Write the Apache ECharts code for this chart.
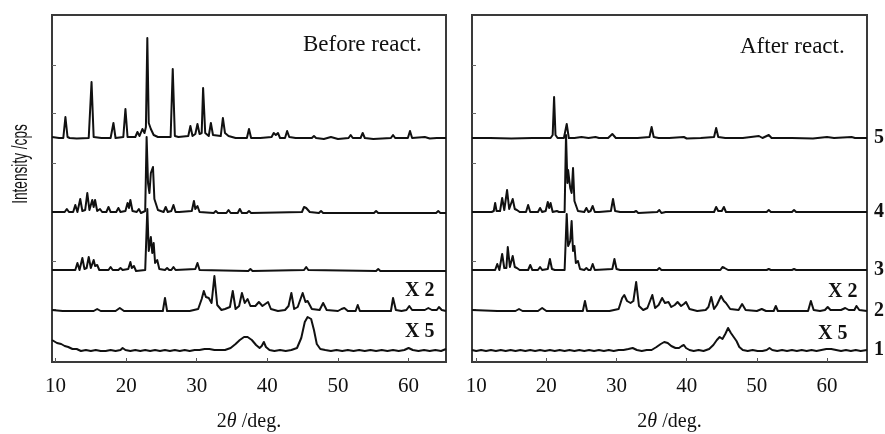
<!DOCTYPE html>
<html>
<head>
<meta charset="utf-8">
<script src="https://cdn.jsdelivr.net/npm/echarts@6/dist/echarts.min.js"></script>
<style>
html,body{margin:0;padding:0;background:#fff;}
#c{width:885px;height:434px;}
</style>
</head>
<body>
<div id="c"></div>
<script>
// ---------- DATA: [2theta (deg), intensity above own baseline] ----------
const TICKS_X = [10, 20, 30, 40, 50, 60];
const TRACE_NAMES = ['1', '2', '3', '4', '5'];
const OFFSETS = [10, 51, 91, 149, 223];   // stacking offset of traces 1..5

// Before react.
const L5 = [[9.5,2],[10.5,1],[11.1,1],[11.4,22],[11.7,2],[12.0,1],[13,0.5],[14.7,1],[15.1,57],[15.4,2],[16.5,1],[17.8,1],[18.2,16],[18.5,1],[19.6,2],[19.9,30],[20.2,2],[21.3,2],[21.6,7],[21.9,3],[22.1,5],[22.3,10],[22.6,6],[22.8,12],[23.0,101],[23.2,16],[23.5,10],[23.9,4],[24.5,2],[26.3,2],[26.6,70],[26.9,3],[27.4,2],[28.8,3],[29.1,13],[29.4,3],[29.8,5],[30.1,15],[30.4,5],[30.7,6],[30.9,51],[31.2,6],[31.7,3],[32.0,16],[32.3,4],[33.4,3],[33.7,21],[34.0,6],[34.2,8],[34.5,3],[35.5,1],[37.1,1],[37.4,10],[37.7,1],[39,1],[40.6,2],[40.9,6],[41.2,4],[41.5,6],[41.8,1],[42.5,1],[42.8,8],[43.1,2],[44,1],[46.3,1],[46.6,3],[46.9,1],[48,0],[49,2],[50,0],[51.5,1],[51.8,4],[52.1,1],[53.2,1],[53.5,6],[53.8,1],[55,0],[57.5,1],[57.8,4],[58.1,1],[59.9,1],[60.2,8],[60.5,1],[62.3,2],[63,0.5],[64,1],[65.3,1]];
const L4 = [[9.5,1],[11.3,1],[11.6,4],[11.9,1],[12.5,1],[12.8,8],[13.1,1],[13.3,2],[13.5,14],[13.8,2],[14.2,3],[14.5,20],[14.8,3],[15.0,4],[15.2,13],[15.4,6],[15.6,13],[15.9,2],[16.3,4],[16.6,1],[17.2,1],[17.5,6],[17.8,1],[18.6,1],[18.9,5],[19.2,1],[19.9,2],[20.2,10],[20.4,5],[20.6,13],[20.9,2],[21.5,1],[21.8,4],[22.1,0],[22.7,2],[22.9,76],[23.1,30],[23.3,20],[23.5,40],[23.8,46],[24.0,14],[24.2,16],[24.5,3],[25.3,1],[25.6,6],[25.9,1],[26.4,2],[26.7,8],[27.0,1],[27.5,1],[29.3,2],[29.6,12],[29.8,4],[30.1,7],[30.4,1],[32.4,0],[32.7,2],[33,0],[34.2,0],[34.5,3],[34.8,0],[35.8,0],[36.1,4],[36.4,0],[37.1,0],[37.4,2],[37.7,0],[44.9,1],[45.2,6],[45.5,5],[45.7,5],[46,1],[47.3,0],[47.6,2],[47.9,0],[55.1,0],[55.4,2],[55.7,0],[63.9,0],[64.2,2],[64.5,0],[65.3,0]];
const L3 = [[9.5,1],[12.8,1],[13.1,8],[13.4,1],[13.6,2],[13.8,13],[14.1,2],[14.4,3],[14.7,14],[15.0,3],[15.2,4],[15.4,11],[15.6,5],[15.9,6],[16.2,1],[17.5,1],[17.8,4],[18.1,1],[18.9,1],[19.2,3],[19.5,1],[20.3,2],[20.6,9],[20.8,3],[21.1,5],[21.4,0],[22.7,1],[23.0,62],[23.2,20],[23.5,34],[23.7,18],[23.9,28],[24.1,8],[24.4,11],[24.7,2],[25.5,1],[25.8,3],[26.1,1],[26.4,1],[26.7,4],[27.0,1],[29.8,2],[30.1,8],[30.4,1],[37.3,0],[37.6,2],[37.9,0],[45.2,1],[45.5,4],[45.8,1],[55.4,0],[55.7,2],[56,0],[65.3,0]];
const L2 = [[9.5,1],[11,0],[13,0],[15.4,0],[15.9,2],[16.4,0],[18.5,0],[19.1,3],[19.7,0],[22,0],[25.2,0],[25.5,13],[25.8,0],[29,0],[30.2,2],[30.7,12],[31.0,20],[31.3,14],[31.7,13],[32.1,8],[32.5,35],[32.9,6],[33.5,1],[34.0,2],[34.7,4],[35.1,20],[35.5,2],[36.0,5],[36.4,18],[36.8,8],[37.2,12],[37.6,5],[38.3,5],[38.8,9],[39.3,5],[39.7,7],[40.1,9],[40.5,2],[41.5,0],[42.5,1],[43.0,5],[43.4,18],[43.8,2],[44.3,4],[45.0,18],[45.4,9],[45.7,10],[46.3,2],[47.4,1],[47.9,8],[48.4,1],[50.0,0],[50.5,2],[50.9,3],[51.4,0],[52.5,0],[52.8,6],[53.1,0],[55,0],[57.5,0],[57.8,13],[58.2,1],[59,0],[59.7,1],[60.1,5],[60.5,1],[62.3,1],[62.8,3],[63.3,1],[64.0,1],[64.3,4],[64.7,1],[65.3,0]];
const L1 = [[9.5,12],[10.2,9],[10.8,8],[11.3,6],[11.8,5],[12.4,3],[13,3],[13.6,1],[14.3,2],[15,1],[15.7,2],[16.4,1],[17.1,1],[17.8,2],[18.5,1],[19.2,2],[19.5,4],[19.9,2],[20.6,1],[21.3,2],[22,1],[22.7,2],[23.4,1],[24.1,2],[24.8,1],[25.5,2],[26.2,1],[26.9,2],[27.6,1],[28.3,2],[29,1],[29.7,2],[30.4,2],[31.1,3],[31.8,3],[32.5,2],[33.2,2],[34,2],[34.8,4],[35.5,8],[36.1,12],[36.7,15],[37.2,15],[37.8,12],[38.4,7],[38.9,4],[39.2,6],[39.5,10],[39.8,5],[40.3,2],[41,1],[41.8,2],[42.6,1],[43.4,2],[44.2,4],[44.8,14],[45.3,30],[45.7,35],[46.2,33],[46.6,22],[47.0,8],[47.5,3],[48.2,2],[49,1],[49.8,2],[50.6,1],[51.4,2],[52.2,1],[53,2],[53.8,1],[54.6,2],[55.4,1],[56.2,2],[57,1],[57.8,2],[58.6,1],[59.4,2],[60,4],[60.6,2],[61.4,1],[62.2,2],[63,1],[63.8,2],[64.6,1],[65.3,3]];

// After react.
const R5 = [[9.4,1],[12,1],[15,0.5],[18,1],[20.6,1],[20.9,4],[21.1,42],[21.3,4],[21.6,1],[22.5,1],[22.9,15],[23.2,1],[24,1],[25,2],[26,1],[27,2],[27.2,3],[27.5,1],[28.8,1],[29.4,5],[29.9,1],[31,1],[33,1],[34.7,2],[35.0,12],[35.3,2],[36,1],[37.5,1],[39.6,2],[40,0.5],[42,1],[43.9,2],[44.2,11],[44.5,2],[45.5,1],[48,1],[50.3,3],[50.8,1],[51.7,4],[52.1,1],[55,1],[58,0.5],[60,2],[61,1],[63.5,2],[64,1],[65.7,1]];
const R4 = [[9.4,1],[12.2,1],[12.5,2],[12.7,10],[12.9,2],[13.4,2],[13.7,15],[14.0,3],[14.2,3],[14.4,23],[14.7,4],[14.9,4],[15.2,14],[15.5,4],[15.8,3],[16.2,1],[17.1,1],[17.4,8],[17.7,1],[18.8,1],[19.1,5],[19.4,1],[19.9,2],[20.2,11],[20.4,5],[20.6,10],[20.9,1],[21.5,2],[21.8,1],[22.6,1],[22.8,78],[23.0,30],[23.1,43],[23.4,25],[23.6,20],[23.8,45],[24.0,12],[24.2,13],[24.5,2],[25.4,1],[25.7,5],[26.0,1],[26.3,2],[26.6,7],[26.9,1],[27.5,1],[29.2,2],[29.5,14],[29.8,2],[30.5,1],[32.5,1],[32.8,2],[33.1,0],[35.8,1],[36.1,3],[36.4,0],[37.0,1],[37.2,3],[37.5,1],[43.9,1],[44.2,6],[44.5,2],[45.0,2],[45.3,6],[45.6,1],[46.5,1],[51.4,1],[51.7,3],[52,1],[55,1],[55.3,3],[55.6,1],[65.7,1]];
const R3 = [[9.4,1],[12.7,1],[13.0,7],[13.3,1],[13.5,2],[13.7,17],[14.0,3],[14.3,3],[14.5,24],[14.8,4],[15.0,4],[15.2,15],[15.5,4],[15.8,3],[16.2,1],[17.4,1],[17.7,6],[18.0,1],[18.8,1],[19.1,4],[19.4,1],[20.2,2],[20.5,12],[20.8,2],[21.2,1],[22.6,1],[22.9,57],[23.1,25],[23.4,30],[23.6,50],[23.8,20],[24.0,25],[24.2,8],[24.5,10],[24.8,2],[25.4,1],[25.7,3],[26.0,1],[26.3,1],[26.6,7],[26.9,1],[29.4,2],[29.7,12],[30.0,2],[30.5,1],[35.8,1],[36.1,3],[36.4,1],[44.8,1],[45.1,4],[45.4,3],[45.6,4],[45.9,1],[51.4,1],[51.7,2],[52,1],[55,1],[55.3,2],[55.6,1],[65.7,1]];
const R2 = [[9.4,1],[13,0],[15.6,0],[16.1,2],[16.6,0],[18.8,0],[19.4,3],[20,0],[23,0],[25.2,0],[25.5,10],[25.8,0],[29,0],[30.3,2],[30.8,13],[31.1,16],[31.5,10],[32.0,8],[32.4,10],[32.8,29],[33.2,5],[33.8,1],[34.4,3],[35.1,16],[35.5,3],[36.0,6],[36.5,13],[36.9,8],[37.4,9],[37.8,4],[38.3,6],[38.7,9],[39.2,5],[39.6,7],[39.9,9],[40.4,2],[41.5,0],[42.7,1],[43.1,4],[43.5,14],[43.9,2],[44.3,6],[44.9,15],[45.3,10],[45.6,8],[46.2,2],[47.4,1],[47.9,7],[48.4,1],[50,0],[50.7,2],[51.3,0],[52.4,0],[52.7,5],[53.0,0],[55,0],[57.3,0],[57.7,10],[58.1,1],[59,0],[59.7,1],[60.1,4],[60.5,1],[62,1],[62.6,3],[63.1,1],[63.9,1],[64.2,5],[64.6,1],[65.7,0]];
const R1 = [[9.4,2],[10,1],[10.7,2],[11.4,1],[12.1,2],[12.8,1],[13.5,2],[14.2,1],[14.9,2],[15.6,1],[16.3,2],[17,1],[17.7,2],[18.4,1],[19.1,2],[19.8,1],[20.5,2],[21.2,1],[21.9,2],[22.6,1],[23.3,2],[24,1],[24.7,2],[25.4,1],[26.1,2],[26.8,1],[27.5,2],[28.2,1],[28.9,2],[29.6,1],[30.3,2],[31,2],[31.7,3],[32.3,4],[32.9,2],[33.6,1],[34.3,2],[35,2],[35.7,5],[36.3,8],[36.8,10],[37.3,9],[37.8,6],[38.4,4],[38.9,4],[39.3,6],[39.6,7],[39.9,4],[40.4,2],[41,1],[41.7,2],[42.4,1],[43.2,3],[43.8,7],[44.3,12],[44.7,15],[45.1,13],[45.5,18],[45.9,24],[46.3,19],[46.7,15],[47.1,11],[47.5,5],[48,2],[48.7,1],[49.4,2],[50.1,1],[50.8,1],[51.4,2],[51.8,4],[52.2,2],[52.9,1],[53.6,2],[54.3,1],[55,2],[55.7,1],[56.4,2],[57.1,1],[57.8,2],[58.5,1],[59.2,2],[59.9,3],[60.6,3],[61.3,2],[62,1],[62.7,2],[63.4,1],[64.1,2],[64.8,1],[65.7,2]];

const LEFT_TRACES = [L1, L2, L3, L4, L5];
const RIGHT_TRACES = [R1, R2, R3, R4, R5];
const PANEL_TITLES = ['Before react.', 'After react.'];
const SCALE_LABELS = ['X 2', 'X 5'];

// ---------- CHART ----------
const chart = echarts.init(document.getElementById('c'), null, {renderer: 'canvas'});
const SERIF = '"Liberation Serif","Times New Roman",serif';
const INK = '#111111';

function xAxisFor(gridIndex, min, max) {
  return {
    type: 'value', gridIndex, min, max,
    name: '2{i|θ} /deg.', nameLocation: 'middle', nameGap: 50,
    nameTextStyle: {fontFamily: SERIF, fontSize: 20, color: INK,
      rich: {i: {fontFamily: SERIF, fontSize: 20, fontStyle: 'italic', color: INK}}},
    axisLine: {show: false},
    splitLine: {show: false},
    axisTick: {show: true, inside: true, length: 4, customValues: TICKS_X, lineStyle: {color: '#555', width: 1}},
    axisLabel: {show: true, customValues: TICKS_X, margin: 14, fontFamily: SERIF, fontSize: 21, color: INK}
  };
}
function yAxisFor(gridIndex) {
  return {
    type: 'value', gridIndex, min: 0, max: 347,
    axisLine: {show: false}, splitLine: {show: false}, axisLabel: {show: false},
    axisTick: {show: true, inside: true, length: 4, customValues: [53, 101, 150, 199, 249, 297], lineStyle: {color: '#666', width: 1}}
  };
}

const series = [];
function addTraces(traces, axisIndex, withEnd) {
  traces.forEach((tr, k) => {
    series.push({
      type: 'line', xAxisIndex: axisIndex, yAxisIndex: axisIndex,
      data: tr.map(p => [p[0], p[1] + OFFSETS[k]]),
      showSymbol: false, symbol: 'none', clip: false, silent: true, animation: false,
      lineStyle: {color: INK, width: 2, join: 'round'},
      z: 10 - k,
      endLabel: withEnd ? {show: true, formatter: TRACE_NAMES[k], distance: 7,
        fontFamily: SERIF, fontWeight: 'bold', fontSize: 20, color: INK} : {show: false}
    });
  });
}
addTraces(LEFT_TRACES, 0, false);
addTraces(RIGHT_TRACES, 1, true);

const gridStyle = {show: true, borderColor: '#3a3a3a', borderWidth: 2, backgroundColor: 'transparent',
  containLabel: false, outerBoundsMode: 'none'};

chart.setOption({
  backgroundColor: '#fff',
  animation: false,
  grid: [
    Object.assign({left: 52, top: 15, width: 394, height: 347}, gridStyle),
    Object.assign({left: 472, top: 15, width: 395, height: 347}, gridStyle)
  ],
  xAxis: [xAxisFor(0, 9.5, 65.3), xAxisFor(1, 9.4, 65.7)],
  yAxis: [yAxisFor(0), yAxisFor(1)],
  series,
  graphic: [
    {type: 'text', left: 303, top: 33, style: {text: PANEL_TITLES[0], font: '23px ' + SERIF, fill: INK}},
    {type: 'text', left: 740, top: 35, style: {text: PANEL_TITLES[1], font: '23px ' + SERIF, fill: INK}},
    {type: 'text', left: 405, top: 281, style: {text: SCALE_LABELS[0], font: 'bold 20px ' + SERIF, fill: INK}},
    {type: 'text', left: 405, top: 322, style: {text: SCALE_LABELS[1], font: 'bold 20px ' + SERIF, fill: INK}},
    {type: 'text', left: 828, top: 282, style: {text: SCALE_LABELS[0], font: 'bold 20px ' + SERIF, fill: INK}},
    {type: 'text', left: 818, top: 324, style: {text: SCALE_LABELS[1], font: 'bold 20px ' + SERIF, fill: INK}},
    {type: 'text', x: 21, y: 164, rotation: Math.PI / 2, scaleX: 0.62,
      style: {text: 'Intensity /cps', font: '22px "Liberation Sans", Arial, sans-serif', fill: INK,
        textAlign: 'center', textVerticalAlign: 'middle'}}
  ]
});
</script>
</body>
</html>
